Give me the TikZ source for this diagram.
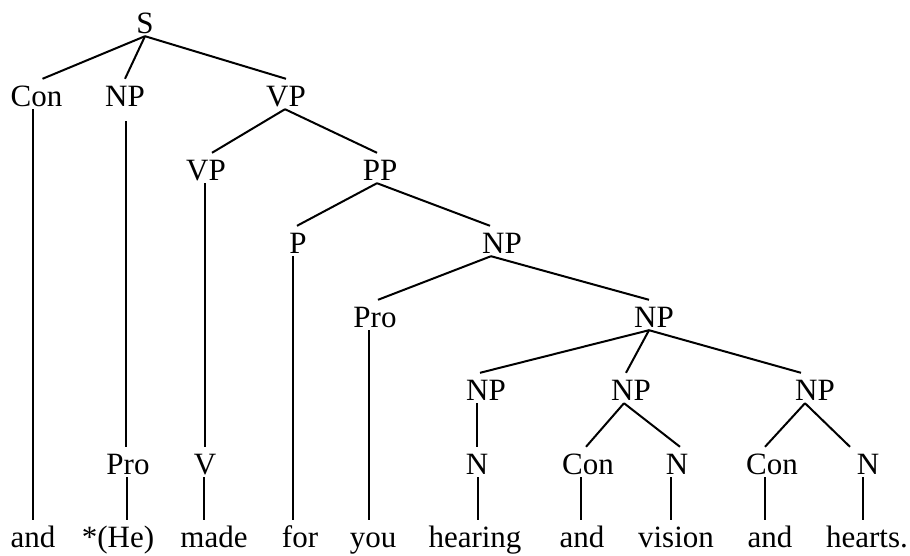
\documentclass[tikz,border=0pt]{standalone}
\usepackage{fontspec}
\setmainfont{Liberation Serif}
\tikzset{
  lbl/.style={anchor=base, inner xsep=0pt, inner ysep=3pt, text height=24pt, text depth=0pt,
    font=\fontsize{31}{36}\selectfont},
  branch/.style={line width=2pt}
}
\begin{document}
\begin{tikzpicture}[x=1pt,y=-1pt]
\useasboundingbox (0,0) rectangle (910,555);
% categories
\node[lbl] (s) at (145,33) {S};
\node[lbl] (con1) at (36.5,106) {Con};
\node[lbl] (np1) at (125,106) {NP};
\node[lbl] (vp1) at (286,106) {VP};
\node[lbl] (vp2) at (206,180) {VP};
\node[lbl] (pp) at (380,180) {PP};
\node[lbl] (p) at (298,253) {P};
\node[lbl] (np3) at (502,253) {NP};
\node[lbl] (pro4) at (375,327) {Pro};
\node[lbl] (np4) at (654,327) {NP};
\node[lbl] (np5a) at (486,400) {NP};
\node[lbl] (np5b) at (631,400) {NP};
\node[lbl] (np5c) at (815,400) {NP};
\node[lbl] (pro6) at (128,474) {Pro};
\node[lbl] (v) at (205,474) {V};
\node[lbl] (n6a) at (477,474) {N};
\node[lbl] (con6b) at (588,474) {Con};
\node[lbl] (n6c) at (677,474) {N};
\node[lbl] (con6d) at (772,474) {Con};
\node[lbl] (n6e) at (868,474) {N};
% words
\node[lbl] (w1) at (33,547) {and};
\node[lbl] (w2) at (118,547) {*(He)};
\node[lbl] (w3) at (214,547) {made};
\node[lbl] (w4) at (300,547) {for};
\node[lbl] (w5) at (373,547) {you};
\node[lbl] (w6) at (475,547) {hearing};
\node[lbl] (w7) at (582,547) {and};
\node[lbl] (w8) at (676,547) {vision};
\node[lbl] (w9) at (770,547) {and};
\node[lbl] (w10) at (867,547) {hearts.};
%%%%
\draw[branch] (s.south) -- ([xshift=6pt]con1.north);
\draw[branch] (s.south) -- (np1.north);
\draw[branch] (s.south) -- (vp1.north);
\draw[branch] ([xshift=-3.5pt]con1.south) -- (w1.north);
\draw[branch] ([xshift=1pt,yshift=-12pt]np1.south) -- ([xshift=-2pt]pro6.north);
\draw[branch] ([xshift=-1pt]pro6.south) -- ([xshift=9pt]w2.north);
\draw[branch] ([xshift=-1pt]vp1.south) -- ([xshift=6pt]vp2.north);
\draw[branch] ([xshift=-1pt]vp1.south) -- ([xshift=-3pt]pp.north);
\draw[branch] ([xshift=-1pt]vp2.south) -- (v.north);
\draw[branch] ([xshift=-1pt]v.south) -- ([xshift=-10pt]w3.north);
\draw[branch] ([xshift=-3pt]pp.south) -- ([xshift=-1pt]p.north);
\draw[branch] ([xshift=-3pt]pp.south) -- ([xshift=-12pt]np3.north);
\draw[branch] ([xshift=-5pt]p.south) -- ([xshift=-7pt]w4.north);
\draw[branch] ([xshift=-11pt]np3.south) -- ([xshift=3pt]pro4.north);
\draw[branch] ([xshift=-11pt]np3.south) -- ([xshift=-5pt]np4.north);
\draw[branch] ([xshift=-6pt]pro4.south) -- ([xshift=-4pt]w5.north);
\draw[branch] ([xshift=-5pt]np4.south) -- ([xshift=-6pt]np5a.north);
\draw[branch] ([xshift=-5pt]np4.south) -- ([xshift=-5pt]np5b.north);
\draw[branch] ([xshift=-5pt]np4.south) -- ([xshift=-14pt]np5c.north);
\draw[branch] ([xshift=-9pt]np5a.south) -- (n6a.north);
\draw[branch] ([xshift=1pt]n6a.south) -- ([xshift=3pt]w6.north);
\draw[branch] ([xshift=-7pt]np5b.south) -- ([xshift=-2pt]con6b.north);
\draw[branch] ([xshift=-7pt]np5b.south) -- ([xshift=3pt]n6c.north);
\draw[branch] ([xshift=-7pt]con6b.south) -- ([xshift=-1pt]w7.north);
\draw[branch] ([xshift=-6pt]n6c.south) -- ([xshift=-5pt]w8.north);
\draw[branch] ([xshift=-10pt]np5c.south) -- ([xshift=-7pt]con6d.north);
\draw[branch] ([xshift=-10pt]np5c.south) -- ([xshift=-18pt]n6e.north);
\draw[branch] ([xshift=-7pt]con6d.south) -- ([xshift=-5pt]w9.north);
\draw[branch] ([xshift=-5pt]n6e.south) -- ([xshift=-4pt]w10.north);
\end{tikzpicture}
\end{document}
